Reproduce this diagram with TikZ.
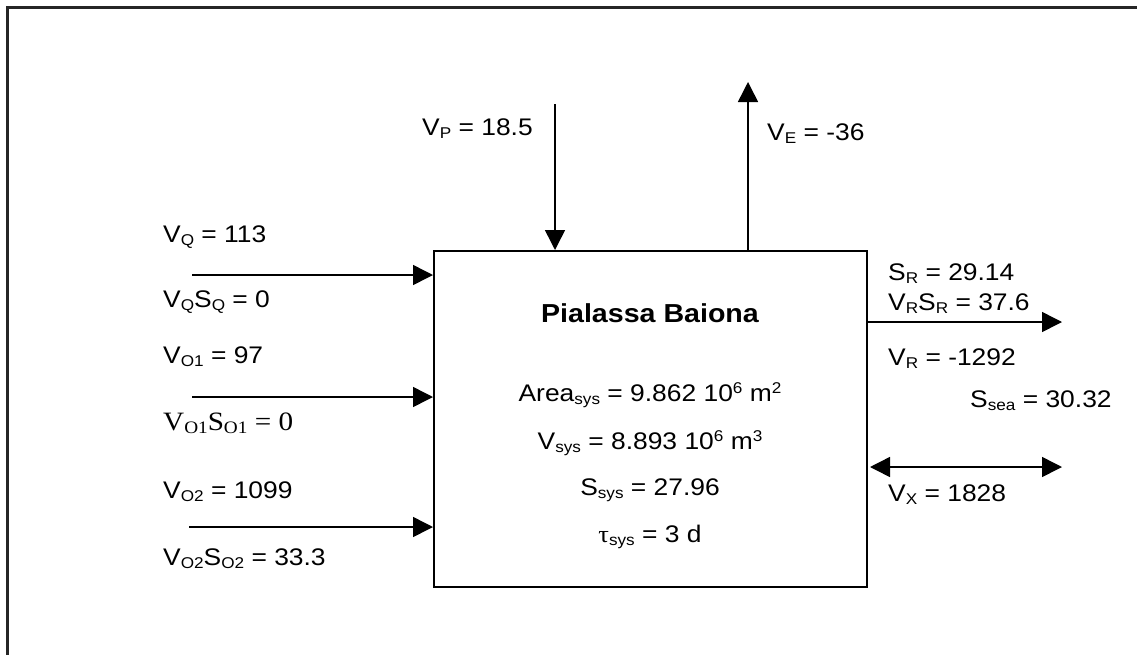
\documentclass[tikz,border=0pt]{standalone}
\usepackage{fontspec}
\setmainfont{Liberation Sans}[FakeStretch=1.1]
\newfontfamily\tnr{Liberation Serif}[FakeStretch=1.1]
\usetikzlibrary{arrows.meta}
\newcommand\sbx[1]{\raisebox{-3.5pt}{\fontsize{15.6}{16}\selectfont #1}}
\newcommand\spx[1]{\raisebox{8pt}{\fontsize{15.6}{16}\selectfont #1}}
\begin{document}
\begin{tikzpicture}[x=1pt,y=-1pt,
  lbl/.style={anchor=base west,inner sep=0,font=\fontsize{24}{28}\selectfont},
  ctr/.style={anchor=base,inner sep=0,font=\fontsize{24}{28}\selectfont},
  arr/.style={line width=1.5pt,-{Triangle[length=20pt,width=20pt]}},
  dbl/.style={line width=1.5pt,{Triangle[length=20pt,width=20pt]}-{Triangle[length=20pt,width=20pt]}}]
\useasboundingbox (0,0) rectangle (1137,654);
\draw[line width=2.5pt,black!85] (7.5,670) -- (7.5,7.5) -- (1150,7.5);
\node[draw,line width=1.5pt,minimum width=433pt,minimum height=336pt,anchor=north west,inner sep=0] (sys) at (433,250) {};
% top arrows
\coordinate (ptop) at (555,104);
\coordinate (etop) at (748,82);
\draw[arr] (ptop) -- (ptop |- sys.north);
\draw[arr] (etop |- sys.north) -- (etop);
% left arrows
\coordinate (qs) at (192,275);
\coordinate (o1s) at (192,397);
\coordinate (o2s) at (189,527);
\draw[arr] (qs) -- (qs -| sys.west);
\draw[arr] (o1s) -- (o1s -| sys.west);
\draw[arr] (o2s) -- (o2s -| sys.west);
% right arrows
\coordinate (re) at (1062,322);
\coordinate (xe) at (1062,467);
\coordinate (xs) at (870,467);
\draw[arr] (re -| sys.east) -- (re);
\draw[dbl] (xs) -- (xe);
% labels
\node[lbl] (vp) at (422,135) {V\sbx{P} = 18.5};
\node[lbl] (ve) at (767,140) {V\sbx{E} = -36};
\node[lbl] (vq) at (163,242) {V\sbx{Q} = 113};
\node[lbl] (vqsq) at (163,307) {V\sbx{Q}S\sbx{Q} = 0};
\node[lbl] (vo1) at (163,363) {V\sbx{O1} = 97};
\node[lbl,font=\tnr\fontsize{26.5}{30}\selectfont] (vo1so1) at (163,430) {V\raisebox{-3.5pt}{\fontsize{17.5}{18}\selectfont O1}S\raisebox{-3.5pt}{\fontsize{17.5}{18}\selectfont O1} = 0};
\node[lbl] (vo2) at (163,498) {V\sbx{O2} = 1099};
\node[lbl] (vo2so2) at (163,565) {V\sbx{O2}S\sbx{O2} = 33.3};
\node[ctr,font=\bfseries\fontsize{26}{30}\selectfont] (title) at (650,322) {Pialassa Baiona};
\node[ctr] (area) at (650,401) {Area\sbx{sys} = 9.862 10\spx{6} m\spx{2}};
\node[ctr] (vsys) at (650,449) {V\sbx{sys} = 8.893 10\spx{6} m\spx{3}};
\node[ctr] (ssys) at (650,495) {S\sbx{sys} = 27.96};
\node[ctr] (tau) at (650,542) {{\tnr τ}\sbx{sys} = 3 d};
\node[lbl] (sr) at (888,280) {S\sbx{R} = 29.14};
\node[lbl] (vrsr) at (888,310) {V\sbx{R}S\sbx{R} = 37.6};
\node[lbl] (vr) at (888,365) {V\sbx{R} = -1292};
\node[lbl] (ssea) at (970,407) {S\sbx{sea} = 30.32};
\node[lbl] (vx) at (888,501) {V\sbx{X} = 1828};
\end{tikzpicture}
\end{document}
